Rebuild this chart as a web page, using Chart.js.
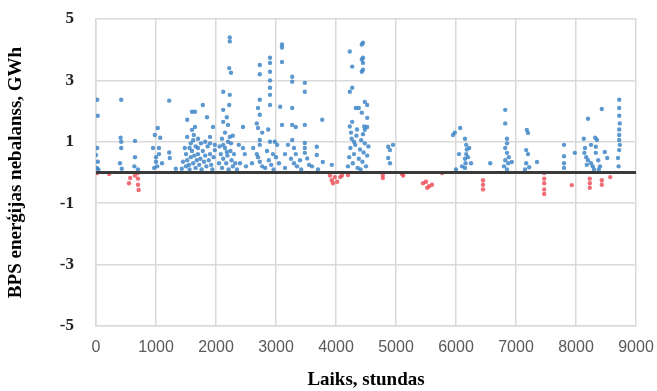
<!DOCTYPE html>
<html>
<head>
<meta charset="utf-8">
<script src="https://cdn.jsdelivr.net/npm/chart.js@4/dist/chart.umd.min.js"></script>
<style>
  body { margin: 0; background: #fff; }
  #wrap { width: 657px; height: 391px; }
</style>
</head>
<body>
<div id="wrap"><canvas id="chartNebalanss" width="657" height="391"></canvas></div>
<script>
// stundas / GWh
const xTicks = [0, 1000, 2000, 3000, 4000, 5000, 6000, 7000, 8000, 9000]
const yTicks = [-5, -3, -1, 1, 3, 5]

// positive imbalance (blue)
const pluss = [
  [20,2.37],[30,1.85],[20,0.8],[0,0.57],[30,0.35],[15,0.15],[40,0.1],
  [420,2.37],[410,1.13],[420,1.0],[420,0.8],[400,0.3],[430,0.12],
  [650,1.03],[650,0.5],[640,0.2],[700,0.1],
  [1220,2.34],[1030,1.45],[980,1.22],[1070,1.13],[950,0.8],[1050,0.8],[1220,0.65],[1000,0.35],
  [1020,0.2],[970,0.15],[1230,0.47],[1330,0.12],[1430,0.12],[1000,0.5],[1050,0.6],[1100,0.3],
  [1520,1.72],[1600,1.98],[1650,1.98],[1520,1.16],[1600,1.39],[1650,1.48],[1630,1.22],[1780,2.2],
  [1850,1.8],[1950,1.48],[1900,1.16],[1700,0.8],[1980,0.9],[1980,0.73],
  [1500,0.6],[1520,0.4],[1550,0.25],[1560,0.1],[1580,0.5],[1600,0.7],[1620,0.3],[1640,0.55],
  [1660,0.15],[1680,0.4],[1700,0.6],[1720,0.25],[1740,0.45],[1760,0.1],[1780,0.7],[1800,0.35],
  [1820,0.55],[1840,0.2],[1860,0.85],[1880,0.4],[1900,0.6],[1920,0.25],[1940,0.1],[1960,0.5],
  [1580,0.95],[1620,1.05],[1700,1.1],[1750,0.95],[1820,1.0],[1560,0.8],[1660,0.85],[1900,0.95],
  [1500,0.2],[1450,0.35],[1480,0.8],
  [2230,4.4],[2230,4.27],[2220,3.4],[2250,3.25],[2120,2.63],[2230,2.53],[2220,2.2],[2120,2.04],
  [2180,1.8],[2120,1.65],[2200,1.55],[2230,1.16],[2450,1.48],[2450,0.8],[2120,0.9],[2180,0.67],
  [2050,0.3],[2080,0.6],[2100,0.15],[2120,0.45],[2150,0.8],[2170,0.3],[2190,0.55],[2210,0.1],
  [2240,0.7],[2260,0.4],[2280,0.2],[2300,0.6],[2320,0.3],[2350,0.1],[2200,1.0],[2250,0.95],
  [2280,1.2],[2150,1.3],[2100,1.1],[2400,0.3],[2500,0.2],[2480,0.6],[2380,0.9],[2060,0.85],
  [2730,3.5],[2730,3.2],[2900,3.74],[2900,3.57],[2900,3.28],[2900,3.0],[2900,2.76],[2900,2.53],
  [2900,2.2],[2730,2.37],[2700,2.1],[2730,1.88],[2680,1.6],[2700,1.45],[2770,1.3],[2870,1.4],
  [2730,1.06],[2730,0.9],[2900,1.0],[2680,0.6],[2700,0.5],[2730,0.35],[2770,0.2],
  [2980,1.0],[3020,0.9],[2950,0.6],[2850,0.7],[2880,0.4],[2920,0.25],[2960,0.1],[2820,0.15],
  [2600,0.3],[2620,0.8],[3000,0.5],
  [3100,4.17],[3100,4.07],[3100,3.6],[3270,3.12],[3270,2.96],[3480,2.92],[3480,2.63],[3270,2.1],
  [3070,2.14],[3100,1.55],[3270,1.55],[3330,1.48],[3480,1.55],[3770,1.72],[3270,1.06],[3480,0.96],
  [3480,0.8],[3300,0.8],[3330,0.6],[3250,0.45],[3300,0.3],[3350,0.2],[3480,0.64],[3520,0.46],
  [3550,0.25],[3600,0.2],[3680,0.84],[3680,0.57],[3780,0.34],[3930,0.25],[3050,0.3],[3150,0.6],
  [3200,0.9],[3150,0.15],[3400,0.4],[3420,0.1],[3700,0.1],
  [4230,3.94],[4270,3.45],[4270,2.76],[4230,2.63],[4430,4.17],[4430,3.68],[4430,3.28],[4450,4.23],
  [4450,3.74],[4450,3.57],[4450,3.35],[4330,2.1],[4380,2.1],[4430,1.95],[4270,1.65],[4480,2.3],
  [4520,2.2],[4520,1.78],[4520,1.48],[4480,1.39],
  [4200,0.2],[4220,0.5],[4240,0.8],[4260,1.1],[4280,0.3],[4300,0.6],[4320,0.9],[4340,1.2],
  [4360,0.15],[4380,0.45],[4400,0.75],[4420,1.05],[4440,0.35],[4460,0.65],[4480,0.95],[4500,0.2],
  [4520,0.55],[4540,0.85],[4250,1.3],[4350,1.4],[4450,1.25],[4410,0.1],[4470,1.5],[4300,1.0],[4230,1.5],
  [4870,0.84],[4900,0.73],[4870,0.47],[4950,0.9],[4900,0.3],
  [5950,1.22],[6070,1.45],[5980,1.3],[6150,1.1],[6170,0.9],[6180,0.75],[6170,0.6],[6150,0.45],
  [6160,0.3],[6150,0.15],[6200,0.5],[6100,0.2],[6220,0.8],[6250,0.3],[6050,0.6],[6000,0.1],
  [6570,0.3],
  [6820,2.04],[6820,1.6],[6850,1.1],[6850,0.95],[6820,0.8],[6850,0.64],[6820,0.4],[6870,0.3],
  [6850,0.1],[6930,0.34],[6880,0.5],[6800,0.2],
  [7180,1.39],[7200,1.29],[7170,0.73],[7200,0.6],[7170,0.3],[7220,0.17],[7350,0.34],[7150,0.1],
  [7800,0.9],[7800,0.53],[7800,0.3],[7800,0.15],[7980,0.64],
  [8200,1.75],[8430,2.07],[8130,1.1],[8150,0.8],[8140,0.64],[8170,0.5],[8200,0.4],[8250,0.3],
  [8280,0.2],[8300,0.1],[8320,1.13],[8350,1.06],[8330,0.84],[8330,0.64],[8370,0.4],[8400,0.2],
  [8380,0.1],[8480,0.67],[8520,0.47],[8250,0.9],[8180,0.25],
  [8720,2.37],[8720,2.1],[8720,1.85],[8730,1.6],[8720,1.4],[8720,1.22],[8720,1.06],[8730,0.9],
  [8720,0.73],[8700,0.47],[8710,0.2]
]

// negative imbalance (red)
const minuss = [
  [20,-0.02],[220,-0.05],[570,-0.18],[550,-0.35],[700,-0.02],[700,-0.2],[700,-0.4],[710,-0.57],[650,-0.1],
  [3930,-0.25],[3980,-0.15],[4070,-0.15],[4200,-0.08],[3950,-0.35],[4020,-0.3],[4100,-0.1],[3900,-0.1],
  [4780,-0.08],[4780,-0.18],[5100,-0.05],[5120,-0.1],[5450,-0.35],[5500,-0.3],[5550,-0.45],
  [5600,-0.4],[5520,-0.5],[5770,-0.02],
  [6450,-0.25],[6450,-0.4],[6450,-0.55],
  [7470,-0.02],[7470,-0.2],[7470,-0.35],[7470,-0.55],[7470,-0.7],
  [7930,-0.41],
  [8230,-0.2],[8230,-0.35],[8230,-0.5],[8430,-0.25],[8430,-0.4],[8570,-0.15]
]

const nullesLinija = [[0, 0], [9000, 0]]

const toXY = arr => arr.map(p => ({ x: p[0], y: p[1] }))

// no automatic label padding, layout.padding decides the plot box
const noPad = s => { s.paddingTop = 0; s.paddingBottom = 0; s.paddingLeft = 0; s.paddingRight = 0 }

const canvas = document.getElementById('chartNebalanss')
const context = canvas.getContext('2d')

const chart = new Chart(context, {
    type : 'scatter',
    data : {
        datasets : [
            {
                type : 'line',
                data : toXY(nullesLinija),
                borderColor : '#3a3a3a',
                borderWidth : 3,
                pointRadius : 0
            },
            {
                data : toXY(pluss),
                backgroundColor : 'rgba(52,128,196,0.8)',
                borderColor : 'rgba(52,128,196,0.8)',
                pointRadius : 2.2,
                borderWidth : 0
            },
            {
                data : toXY(minuss),
                backgroundColor : 'rgba(236,72,84,0.8)',
                borderColor : 'rgba(236,72,84,0.8)',
                pointRadius : 2.2,
                borderWidth : 0
            }
        ]
    },
    options : {
        responsive : false,
        animation : false,
        layout : { padding : { top : 19, right : 21, left : 0, bottom : 0 } },
        plugins : { legend : { display : false }, tooltip : { enabled : false } },
        scales : {
            x : {
                type : 'linear',
                min : 0,
                max : 9000,
                afterBuildTicks : s => { s.ticks = xTicks.map(v => ({ value : v })) },
                afterFit : s => { s.height = 65; noPad(s) },
                grid : { color : '#d9d9d9', lineWidth : 1.5, drawTicks : false },
                border : { color : '#d9d9d9', width : 1.5 },
                ticks : {
                    padding : 12,
                    maxRotation : 0,
                    color : '#595959',
                    font : { family : 'Liberation Sans', size : 16 },
                    callback : v => String(v)
                },
                title : {
                    display : true,
                    text : 'Laiks, stundas',
                    color : '#000',
                    padding : { top : 0, bottom : 0 },
                    font : { family : 'Liberation Serif', size : 19, weight : 'bold' }
                }
            },
            y : {
                min : -5,
                max : 5,
                afterBuildTicks : s => { s.ticks = yTicks.map(v => ({ value : v })) },
                afterFit : s => { s.width = 96; noPad(s) },
                grid : { color : '#d9d9d9', lineWidth : 1.5, drawTicks : false },
                border : { color : '#d9d9d9', width : 1.5 },
                ticks : {
                    padding : 22,
                    color : '#222',
                    font : { family : 'Liberation Serif', size : 17, weight : 'bold' }
                },
                title : {
                    display : true,
                    text : 'BPS enerģijas nebalanss, GWh',
                    color : '#000',
                    padding : { top : 5, bottom : 0 },
                    font : { family : 'Liberation Serif', size : 19, weight : 'bold' }
                }
            }
        }
    }
})
</script>
</body>
</html>
